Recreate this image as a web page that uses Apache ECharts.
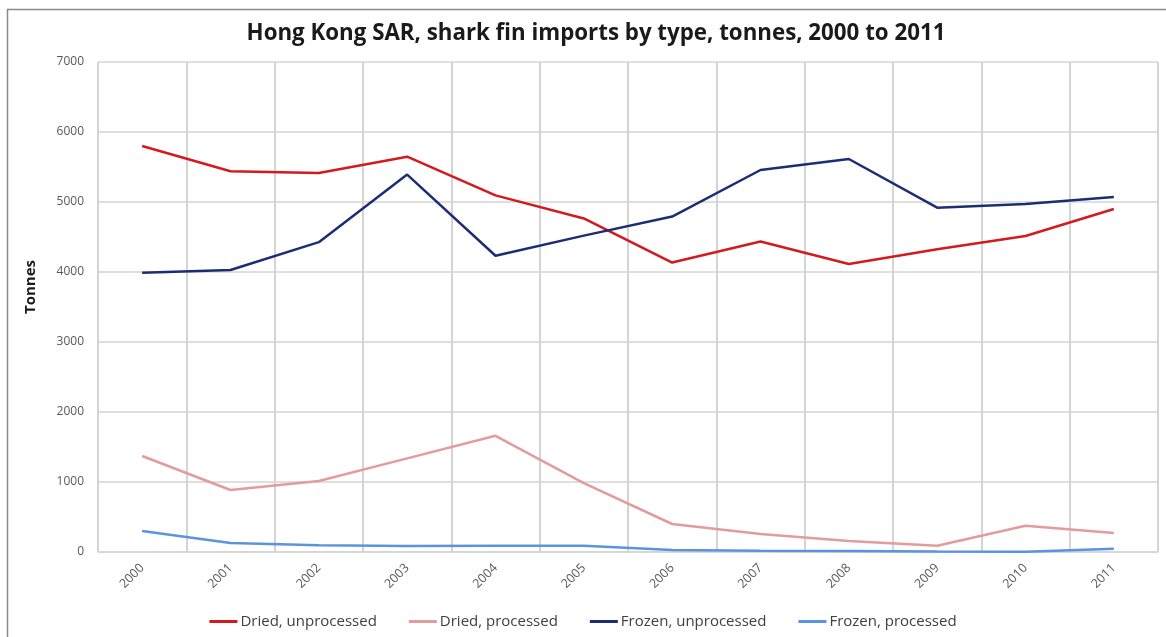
<!DOCTYPE html>
<html>
<head>
<meta charset="utf-8">
<title>Hong Kong SAR shark fin imports</title>
<script src="https://cdn.jsdelivr.net/npm/echarts@6/dist/echarts.min.js"></script>
<style>
  html, body { margin: 0; padding: 0; background: #ffffff; }
  #chart { width: 1166px; height: 637px; }
</style>
</head>
<body>
<div id="chart"></div>
<script>
// Years on the category axis
const years = ['2000', '2001', '2002', '2003', '2004', '2005', '2006', '2007', '2008', '2009', '2010', '2011'];

// Imports in tonnes, by product type
const driedUnprocessed  = [5800, 5440, 5414, 5647, 5095, 4765, 4135, 4435, 4115, 4325, 4515, 4900];
const driedProcessed    = [1371, 886, 1014, 1338, 1660, 985, 400, 257, 157, 88, 376, 271];
const frozenUnprocessed = [3990, 4029, 4426, 5392, 4232, 4520, 4792, 5457, 5614, 4919, 4971, 5071];
const frozenProcessed   = [300, 129, 95, 86, 88, 90, 29, 19, 14, 8, 4, 47];

// Value axis ticks
const yMin = 0, yMax = 7000, yStep = 1000;

const seriesDefs = [
  { name: 'Dried, unprocessed',  data: driedUnprocessed,  color: '#d21a1f' },
  { name: 'Dried, processed',    data: driedProcessed,    color: '#e39b9b' },
  { name: 'Frozen, unprocessed', data: frozenUnprocessed, color: '#1c2d73' },
  { name: 'Frozen, processed',   data: frozenProcessed,   color: '#5a94e0' }
];

const gridColor = '#d4d4d4';
const labelColor = '#595959';
const font = '"Open Sans", "Noto Sans", sans-serif';

const chart = echarts.init(document.getElementById('chart'), null, { renderer: 'canvas' });

chart.setOption({
  animation: false,
  backgroundColor: '#ffffff',
  textStyle: { fontFamily: font },
  title: {
    text: 'Hong Kong SAR, shark fin imports by type, tonnes, 2000 to 2011',
    left: 591,
    top: 18,
    textAlign: 'center',
    textStyle: { fontSize: 22.3, fontWeight: 'bold', color: '#1a1a1a', fontFamily: font }
  },
  graphic: [{
    type: 'rect',
    silent: true,
    shape: { x: 7.5, y: 9.5, width: 1180, height: 660 },
    style: { fill: 'none', stroke: '#8a8a8a', lineWidth: 1.5 },
    z: -1
  }],
  legend: {
    bottom: 3,
    left: 'center',
    itemGap: 32,
    itemWidth: 28,
    itemHeight: 3,
    icon: 'rect',
    textStyle: { fontSize: 15, color: '#404040', fontFamily: font, padding: [0, 0, 0, -2] },
    data: seriesDefs.map(s => s.name)
  },
  grid: { left: 98, right: 8, top: 62, bottom: 85, containLabel: false },
  xAxis: {
    type: 'category',
    data: years,
    boundaryGap: true,
    axisLine: { show: true, lineStyle: { color: gridColor, width: 1.5 } },
    axisTick: { show: false },
    axisLabel: {
      rotate: 45,
      margin: 14,
      fontSize: 12.5,
      color: labelColor,
      fontFamily: font
    },
    splitLine: { show: true, interval: 0, lineStyle: { color: gridColor, width: 2 } }
  },
  yAxis: {
    type: 'value',
    min: yMin,
    max: yMax,
    interval: yStep,
    name: 'Tonnes',
    nameLocation: 'middle',
    nameGap: 60,
    nameRotate: 90,
    nameTextStyle: {
      fontSize: 15, fontWeight: 'bold', color: '#1a1a1a', fontFamily: font,
      padding: [0, 0, 0, 40]
    },
    axisLine: { show: false },
    axisTick: { show: false },
    axisLabel: {
      fontSize: 12, color: labelColor, margin: 14, fontFamily: font,
      formatter: v => String(v)
    },
    splitLine: { show: true, lineStyle: { color: gridColor, width: 1.5 } }
  },
  series: seriesDefs.map(s => ({
    name: s.name,
    type: 'line',
    data: s.data,
    symbol: 'none',
    smooth: false,
    color: s.color,
    lineStyle: { color: s.color, width: 2.5 },
    itemStyle: { color: s.color }
  }))
});
</script>
</body>
</html>
